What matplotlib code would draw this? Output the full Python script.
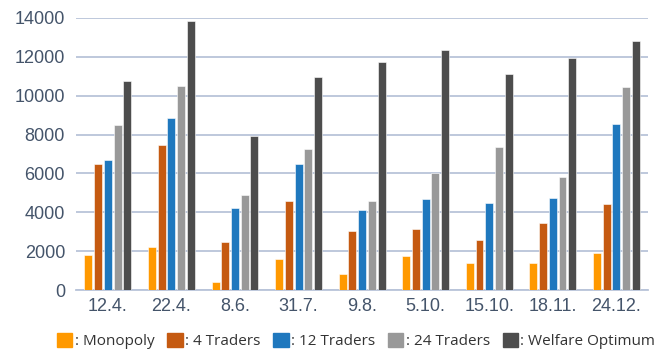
import matplotlib
matplotlib.use("Agg")
import matplotlib.pyplot as plt
from matplotlib.patches import Rectangle
import numpy as np

categories = ["12.4.", "22.4.", "8.6.", "31.7.", "9.8.", "5.10.", "15.10.", "18.11.", "24.12."]
series_names = ["Monopoly", "4 Traders", "12 Traders", "24 Traders", "Welfare Optimum"]
monopoly = [1800, 2230, 430, 1610, 800, 1750, 1370, 1370, 1890]
traders4 = [6490, 7450, 2460, 4600, 3040, 3120, 2570, 3430, 4410]
traders12 = [6690, 8830, 4200, 6490, 4140, 4670, 4480, 4740, 8530]
traders24 = [8510, 10500, 4900, 7260, 4560, 6000, 7360, 5820, 10430]
welfare = [10760, 13860, 7930, 10980, 11750, 12350, 11140, 11920, 12820]
yticks = [0, 2000, 4000, 6000, 8000, 10000, 12000, 14000]

colors = ["#FF9900", "#C55A11", "#1F78BE", "#999999", "#4D4D4D"]
text_color = "#44546A"
grid_color = "#B9C4D9"

plt.rcParams['font.family'] = ['Liberation Sans', 'DejaVu Sans']

fig = plt.figure(figsize=(6.62, 3.52), dpi=100)
ax = fig.add_axes([0.115, 0.176, 0.864, 0.773])

data = [monopoly, traders4, traders12, traders24, welfare]
x = np.arange(len(categories))
stride = 0.153
width = 0.125
for i, (vals, c) in enumerate(zip(data, colors)):
    ax.bar(x + (i - 2) * stride, vals, width=width, color=c, edgecolor="white",
           linewidth=0.4, zorder=3)

ax.set_xlim(-0.5, len(categories) - 0.5)
ax.set_ylim(0, 14000)
ax.set_yticks(yticks)
ax.set_yticklabels([str(v) for v in yticks])
ax.set_xticks(x)
ax.set_xticklabels(categories)
ax.yaxis.grid(True, color=grid_color, linewidth=1.3, zorder=0)
ax.set_axisbelow(True)
for s in ["top", "right", "left"]:
    ax.spines[s].set_visible(False)
ax.spines["bottom"].set_color(grid_color)
ax.spines["bottom"].set_linewidth(1.3)
ax.tick_params(axis="both", length=0, labelsize=13, colors=text_color)
ax.tick_params(axis="x", pad=6)
ax.tick_params(axis="y", pad=8)

handles = [Rectangle((0, 0), 1, 1, color=c) for c in colors]
labels = [": " + n for n in series_names]
fig.legend(handles, labels, loc="center", bbox_to_anchor=(0.538, 0.03), ncol=5,
           frameon=False, fontsize=11, handlelength=1.0, handleheight=1.0,
           handletextpad=0.15, columnspacing=0.85, labelcolor="#333333",
           prop={"family": ["Open Sans", "DejaVu Sans"], "size": 11})

fig.savefig("out.png", dpi=100)
